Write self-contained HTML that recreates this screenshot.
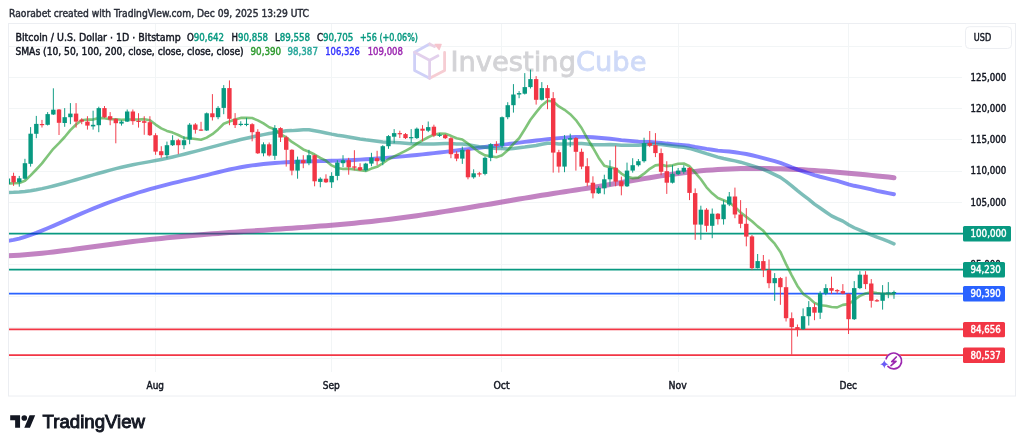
<!DOCTYPE html><html><head><meta charset="utf-8"><title>BTCUSD chart</title><style>
html,body{margin:0;padding:0;background:#fff;width:1024px;height:448px;overflow:hidden}
svg{display:block;will-change:transform}text{font-family:"DejaVu Sans","Liberation Sans",sans-serif;paint-order:stroke;stroke-width:0.45px}
</style></head><body>
<svg width="1024" height="448" viewBox="0 0 1024 448">
<rect width="1024" height="448" fill="#ffffff"/>
<text x="9.0" y="16.7" font-size="9.8" fill="#2a2e39" stroke="#2a2e39" textLength="300.0" lengthAdjust="spacingAndGlyphs">Raorabet created with TradingView.com, Dec 09, 2025 13:29 UTC</text>
<rect x="8.5" y="23.5" width="1007" height="372.5" fill="none" stroke="#eceef2" stroke-width="1"/>
<g stroke="#f2f5f6" stroke-width="1"><line x1="9" x2="962" y1="46.5" y2="46.5"/><line x1="9" x2="962" y1="77.5" y2="77.5"/><line x1="9" x2="962" y1="108.5" y2="108.5"/><line x1="9" x2="962" y1="139.5" y2="139.5"/><line x1="9" x2="962" y1="171.5" y2="171.5"/><line x1="9" x2="962" y1="202.5" y2="202.5"/><line x1="9" x2="962" y1="233.5" y2="233.5"/><line x1="9" x2="962" y1="264.5" y2="264.5"/><line x1="9" x2="962" y1="296.5" y2="296.5"/><line x1="9" x2="962" y1="327.5" y2="327.5"/><line x1="9" x2="962" y1="358.5" y2="358.5"/><line x1="155.5" x2="155.5" y1="24" y2="372"/><line x1="331.5" x2="331.5" y1="24" y2="372"/><line x1="501.5" x2="501.5" y1="24" y2="372"/><line x1="678.5" x2="678.5" y1="24" y2="372"/><line x1="848.5" x2="848.5" y1="24" y2="372"/></g>
<g fill="none" stroke-width="2.8" stroke-linejoin="round" stroke-linecap="round"><path d="M429.6,44 L414.6,52.2 L414.6,70.4 L429.6,78.2" stroke="#cfd0f7"/><path d="M429.6,78.2 L444.6,70.4 L444.6,52.4" stroke="#f6cdd3"/><path d="M414.6,52.2 L429.6,60.3 L438,55.8 M429.6,60.3 L429.6,78.2" stroke="#e2d0ec"/><path d="M429.6,44 L434.5,46.6" stroke="#ead0e4"/><path d="M435,44.3 L441.2,44.3 L439.2,49.6 Z" fill="#f6c4cc" stroke="#f6c4cc" stroke-width="1.2"/></g>
<text x="450.5" y="70.6" font-size="26.5" textLength="196" lengthAdjust="spacingAndGlyphs" style="stroke-width:0.8px"><tspan fill="#d3d3d6" stroke="#d3d3d6">Investing</tspan><tspan fill="#cfdaf8" stroke="#cfdaf8">Cube</tspan></text>
<text x="15.4" y="40.5" font-size="9.8" fill="#131722" stroke="#131722" textLength="165.4" lengthAdjust="spacingAndGlyphs">Bitcoin / U.S. Dollar · 1D · Bitstamp</text>
<text x="187.0" y="40.5" font-size="9.8" textLength="37.1" lengthAdjust="spacingAndGlyphs"><tspan fill="#131722" stroke="#131722">O</tspan><tspan fill="#089981" stroke="#089981">90,642</tspan></text>
<text x="231.6" y="40.5" font-size="9.8" textLength="36.5" lengthAdjust="spacingAndGlyphs"><tspan fill="#131722" stroke="#131722">H</tspan><tspan fill="#089981" stroke="#089981">90,858</tspan></text>
<text x="274.9" y="40.5" font-size="9.8" textLength="35.2" lengthAdjust="spacingAndGlyphs"><tspan fill="#131722" stroke="#131722">L</tspan><tspan fill="#089981" stroke="#089981">89,558</tspan></text>
<text x="316.9" y="40.5" font-size="9.8" textLength="36.5" lengthAdjust="spacingAndGlyphs"><tspan fill="#131722" stroke="#131722">C</tspan><tspan fill="#089981" stroke="#089981">90,705</tspan></text>
<text x="359.9" y="40.5" font-size="9.8" fill="#089981" stroke="#089981" textLength="58.0" lengthAdjust="spacingAndGlyphs">+56 (+0.06%)</text>
<text x="15.4" y="54.9" font-size="9.8" fill="#131722" stroke="#131722" textLength="228.3" lengthAdjust="spacingAndGlyphs">SMAs (10, 50, 100, 200, close, close, close, close)</text>
<text x="250.5" y="54.9" font-size="9.8" fill="#2e9a2e" stroke="#2e9a2e" textLength="30.7" lengthAdjust="spacingAndGlyphs">90,390</text>
<text x="287.6" y="54.9" font-size="9.8" fill="#26a69a" stroke="#26a69a" textLength="30.3" lengthAdjust="spacingAndGlyphs">98,387</text>
<text x="325.3" y="54.9" font-size="9.8" fill="#3333ff" stroke="#3333ff" textLength="34.6" lengthAdjust="spacingAndGlyphs">106,326</text>
<text x="367.7" y="54.9" font-size="9.8" fill="#9c27b0" stroke="#9c27b0" textLength="35.2" lengthAdjust="spacingAndGlyphs">109,008</text>
<line x1="9" x2="963" y1="233.6" y2="233.6" stroke="#089981" stroke-width="1.6"/>
<line x1="9" x2="963" y1="269.6" y2="269.6" stroke="#089981" stroke-width="1.6"/>
<line x1="9" x2="963" y1="293.6" y2="293.6" stroke="#2962ff" stroke-width="1.6"/>
<line x1="9" x2="963" y1="329.4" y2="329.4" stroke="#f23645" stroke-width="1.6"/>
<line x1="9" x2="963" y1="355.1" y2="355.1" stroke="#f23645" stroke-width="1.6"/>
<g fill="none" stroke-linecap="round" stroke-linejoin="round">
<path d="M7.90,255.76 L13.58,255.50 L19.26,255.17 L24.94,254.77 L30.62,254.31 L36.30,253.80 L41.98,253.24 L47.66,252.63 L53.34,251.99 L59.02,251.30 L64.70,250.59 L70.38,249.86 L76.06,249.10 L81.74,248.33 L87.42,247.54 L93.10,246.76 L98.78,245.97 L104.46,245.19 L110.14,244.42 L115.82,243.67 L121.50,242.93 L127.18,242.22 L132.86,241.54 L138.54,240.87 L144.22,240.23 L149.90,239.60 L155.58,239.00 L161.26,238.41 L166.94,237.85 L172.62,237.30 L178.30,236.76 L183.98,236.24 L189.66,235.74 L195.34,235.25 L201.02,234.77 L206.70,234.31 L212.38,233.85 L218.06,233.41 L223.74,232.98 L229.42,232.55 L235.10,232.14 L240.78,231.73 L246.46,231.32 L252.14,230.93 L257.82,230.53 L263.50,230.14 L269.18,229.75 L274.86,229.36 L280.54,228.97 L286.22,228.58 L291.90,228.19 L297.58,227.78 L303.26,227.37 L308.94,226.96 L314.62,226.53 L320.30,226.09 L325.98,225.64 L331.66,225.17 L337.34,224.69 L343.02,224.19 L348.70,223.68 L354.38,223.14 L360.06,222.58 L365.74,222.00 L371.42,221.40 L377.10,220.77 L382.78,220.11 L388.46,219.43 L394.14,218.72 L399.82,217.99 L405.50,217.24 L411.18,216.46 L416.86,215.66 L422.54,214.85 L428.22,214.01 L433.90,213.16 L439.58,212.29 L445.26,211.40 L450.94,210.50 L456.62,209.59 L462.30,208.67 L467.98,207.73 L473.66,206.79 L479.34,205.83 L485.02,204.87 L490.70,203.91 L496.38,202.94 L502.06,201.97 L507.74,201.00 L513.42,200.03 L519.10,199.07 L524.78,198.12 L530.46,197.18 L536.14,196.25 L541.82,195.33 L547.50,194.43 L553.18,193.54 L558.86,192.65 L564.54,191.77 L570.22,190.89 L575.90,190.01 L581.58,189.11 L587.26,188.21 L592.94,187.29 L598.62,186.36 L604.30,185.41 L609.98,184.44 L615.66,183.46 L621.34,182.48 L627.02,181.50 L632.70,180.52 L638.38,179.55 L644.06,178.60 L649.74,177.66 L655.42,176.74 L661.10,175.86 L666.78,175.01 L672.46,174.19 L678.14,173.42 L683.82,172.69 L689.50,172.02 L695.18,171.40 L700.86,170.85 L706.54,170.35 L712.22,169.92 L717.90,169.55 L723.58,169.23 L729.26,168.97 L734.94,168.76 L740.62,168.61 L746.30,168.50 L751.98,168.45 L757.66,168.44 L763.34,168.47 L769.02,168.55 L774.70,168.67 L780.38,168.83 L786.06,169.03 L791.74,169.26 L797.42,169.53 L803.10,169.84 L808.78,170.17 L814.46,170.53 L820.14,170.92 L825.82,171.33 L831.50,171.77 L837.18,172.23 L842.86,172.72 L848.54,173.22 L854.22,173.73 L859.90,174.27 L865.58,174.81 L871.26,175.37 L876.94,175.94 L882.62,176.51 L888.30,177.09 L893.98,177.68" stroke="rgba(140,20,140,0.53)" stroke-width="5.0"/>
<path d="M7.90,240.94 L13.58,239.92 L19.26,238.56 L24.94,236.91 L30.62,235.02 L36.30,232.93 L41.98,230.68 L47.66,228.31 L53.34,225.88 L59.02,223.40 L64.70,220.90 L70.38,218.39 L76.06,215.89 L81.74,213.41 L87.42,210.99 L93.10,208.62 L98.78,206.34 L104.46,204.13 L110.14,202.01 L115.82,199.97 L121.50,198.00 L127.18,196.10 L132.86,194.27 L138.54,192.51 L144.22,190.81 L149.90,189.17 L155.58,187.59 L161.26,186.07 L166.94,184.60 L172.62,183.18 L178.30,181.81 L183.98,180.46 L189.66,179.13 L195.34,177.80 L201.02,176.46 L206.70,175.09 L212.38,173.68 L218.06,172.25 L223.74,170.84 L229.42,169.51 L235.10,168.30 L240.78,167.23 L246.46,166.28 L252.14,165.44 L257.82,164.70 L263.50,164.06 L269.18,163.51 L274.86,163.04 L280.54,162.64 L286.22,162.30 L291.90,162.02 L297.58,161.78 L303.26,161.57 L308.94,161.39 L314.62,161.24 L320.30,161.09 L325.98,160.94 L331.66,160.79 L337.34,160.62 L343.02,160.43 L348.70,160.21 L354.38,159.95 L360.06,159.65 L365.74,159.31 L371.42,158.94 L377.10,158.54 L382.78,158.11 L388.46,157.65 L394.14,157.16 L399.82,156.65 L405.50,156.11 L411.18,155.55 L416.86,154.97 L422.54,154.37 L428.22,153.76 L433.90,153.13 L439.58,152.48 L445.26,151.83 L450.94,151.16 L456.62,150.49 L462.30,149.81 L467.98,149.12 L473.66,148.42 L479.34,147.71 L485.02,147.00 L490.70,146.28 L496.38,145.56 L502.06,144.83 L507.74,144.09 L513.42,143.36 L519.10,142.64 L524.78,141.93 L530.46,141.23 L536.14,140.54 L541.82,139.88 L547.50,139.25 L553.18,138.65 L558.86,138.11 L564.54,137.66 L570.22,137.30 L575.90,137.03 L581.58,136.87 L587.26,136.92 L592.94,137.22 L598.62,137.76 L604.30,138.31 L609.98,138.74 L615.66,139.42 L621.34,140.18 L627.02,140.66 L632.70,141.14 L638.38,141.62 L644.06,141.83 L649.74,142.07 L655.42,142.35 L661.10,142.82 L666.78,143.56 L672.46,144.13 L678.14,144.64 L683.82,145.09 L689.50,145.80 L695.18,146.93 L700.86,147.82 L706.54,148.86 L712.22,149.77 L717.90,150.61 L723.58,151.14 L729.26,151.55 L734.94,152.24 L740.62,153.08 L746.30,153.99 L751.98,155.27 L757.66,156.63 L763.34,158.04 L769.02,159.57 L774.70,161.21 L780.38,162.91 L786.06,165.02 L791.74,167.41 L797.42,169.51 L803.10,171.42 L808.78,173.25 L814.46,175.14 L820.14,176.75 L825.82,178.10 L831.50,179.56 L837.18,180.92 L842.86,182.58 L848.54,184.39 L854.22,185.78 L859.90,186.82 L865.58,188.06 L871.26,189.44 L876.94,190.90 L882.62,192.01 L888.30,193.15 L893.98,194.25" stroke="rgba(10,10,255,0.5)" stroke-width="3.9"/>
<path d="M7.90,192.38 L13.58,192.34 L19.26,192.04 L24.94,191.49 L30.62,190.73 L36.30,189.77 L41.98,188.65 L47.66,187.38 L53.34,185.99 L59.02,184.50 L64.70,182.94 L70.38,181.33 L76.06,179.70 L81.74,178.07 L87.42,176.45 L93.10,174.85 L98.78,173.26 L104.46,171.69 L110.14,170.16 L115.82,168.67 L121.50,167.26 L127.18,165.94 L132.86,164.73 L138.54,163.63 L144.22,162.62 L149.90,161.62 L155.58,160.57 L161.26,159.44 L166.94,158.23 L172.62,156.95 L178.30,155.61 L183.98,154.22 L189.66,152.79 L195.34,151.32 L201.02,149.83 L206.70,148.33 L212.38,146.83 L218.06,145.33 L223.74,143.84 L229.42,142.38 L235.10,140.95 L240.78,139.56 L246.46,138.22 L252.14,136.94 L257.82,135.73 L263.50,134.60 L269.18,133.56 L274.86,132.61 L280.54,131.77 L286.22,130.78 L291.90,130.62 L297.58,130.17 L303.26,129.87 L308.94,129.71 L314.62,130.66 L320.30,131.76 L325.98,132.91 L331.66,134.14 L337.34,135.20 L343.02,135.95 L348.70,136.95 L354.38,138.03 L360.06,139.01 L365.74,139.85 L371.42,140.49 L377.10,141.21 L382.78,141.98 L388.46,142.35 L394.14,142.62 L399.82,142.84 L405.50,143.17 L411.18,143.68 L416.86,143.83 L422.54,144.02 L428.22,144.10 L433.90,144.11 L439.58,143.77 L445.26,143.43 L450.94,143.61 L456.62,143.98 L462.30,144.07 L467.98,144.81 L473.66,145.78 L479.34,146.67 L485.02,147.21 L490.70,147.83 L496.38,148.40 L502.06,148.59 L507.74,148.93 L513.42,148.44 L519.10,147.80 L524.78,147.07 L530.46,146.18 L536.14,145.53 L541.82,144.22 L547.50,143.30 L553.18,143.24 L558.86,144.01 L564.54,144.05 L570.22,143.81 L575.90,143.44 L581.58,143.57 L587.26,143.96 L592.94,144.72 L598.62,144.86 L604.30,144.87 L609.98,144.58 L615.66,144.69 L621.34,145.17 L627.02,145.37 L632.70,145.33 L638.38,145.20 L644.06,144.66 L649.74,144.30 L655.42,144.21 L661.10,144.42 L666.78,145.15 L672.46,145.91 L678.14,146.66 L683.82,147.33 L689.50,148.43 L695.18,150.18 L700.86,151.80 L706.54,153.70 L712.22,155.43 L717.90,157.11 L723.58,158.50 L729.26,159.67 L734.94,160.87 L740.62,162.18 L746.30,163.91 L751.98,165.73 L757.66,167.49 L763.34,169.41 L769.02,171.92 L774.70,174.60 L780.38,177.42 L786.06,181.44 L791.74,185.88 L797.42,190.58 L803.10,195.04 L808.78,199.44 L814.46,204.11 L820.14,207.98 L825.82,211.98 L831.50,215.83 L837.18,218.60 L842.86,221.14 L848.54,224.74 L854.22,227.74 L859.90,230.20 L865.58,232.55 L871.26,234.91 L876.94,237.07 L882.62,239.17 L888.30,241.44 L893.98,243.92" stroke="rgba(19,137,128,0.55)" stroke-width="3.5"/>
<path d="M7.90,183.60 L13.58,183.30 L19.26,183.00 L24.94,180.80 L30.62,175.40 L36.30,169.50 L41.98,163.40 L47.66,156.00 L53.34,148.80 L59.02,143.13 L64.70,137.00 L70.38,130.13 L76.06,124.46 L81.74,120.30 L87.42,119.49 L93.10,119.58 L98.78,117.91 L104.46,118.22 L110.14,119.21 L115.82,119.25 L121.50,119.69 L127.18,119.48 L132.86,119.44 L138.54,119.44 L144.22,119.16 L149.90,120.20 L155.58,124.55 L161.26,128.35 L166.94,130.91 L172.62,132.61 L178.30,134.97 L183.98,137.84 L189.66,138.19 L195.34,139.01 L201.02,139.78 L206.70,137.59 L212.38,134.15 L218.06,129.42 L223.74,123.71 L229.42,121.57 L235.10,119.56 L240.78,117.92 L246.46,117.83 L252.14,118.07 L257.82,120.35 L263.50,123.45 L269.18,127.28 L274.86,129.30 L280.54,134.24 L286.22,137.34 L291.90,141.89 L297.58,145.49 L303.26,149.43 L308.94,151.73 L314.62,154.53 L320.30,157.97 L325.98,160.65 L331.66,165.43 L337.34,167.94 L343.02,168.98 L348.70,168.64 L354.38,169.43 L360.06,170.14 L365.74,170.98 L371.42,168.61 L377.10,166.86 L382.78,163.25 L388.46,159.27 L394.14,156.32 L399.82,153.71 L405.50,150.80 L411.18,147.74 L416.86,143.58 L422.54,140.29 L428.22,137.24 L433.90,134.67 L439.58,133.52 L445.26,133.73 L450.94,135.84 L456.62,138.29 L462.30,139.46 L467.98,143.48 L473.66,147.94 L479.34,152.26 L485.02,155.33 L490.70,156.20 L496.38,157.31 L502.06,155.21 L507.74,150.31 L513.42,143.90 L519.10,138.23 L524.78,129.21 L530.46,119.79 L536.14,112.38 L541.82,105.41 L547.50,100.81 L553.18,101.49 L558.86,106.43 L564.54,109.82 L570.22,114.18 L575.90,120.05 L581.58,128.00 L587.26,138.36 L592.94,147.71 L598.62,157.69 L604.30,165.80 L609.98,167.32 L615.66,168.82 L621.34,173.54 L627.02,176.79 L632.70,178.13 L638.38,177.59 L644.06,173.63 L649.74,168.87 L655.42,165.39 L661.10,164.64 L666.78,166.13 L672.46,165.35 L678.14,163.78 L683.82,163.50 L689.50,166.27 L695.18,172.61 L700.86,179.27 L706.54,187.28 L712.22,193.34 L717.90,198.08 L723.58,200.26 L729.26,202.53 L734.94,206.92 L740.62,212.52 L746.30,216.89 L751.98,221.24 L757.66,226.38 L763.34,230.81 L769.02,237.76 L774.70,243.65 L780.38,251.92 L786.06,264.09 L791.74,275.35 L797.42,285.89 L803.10,293.85 L808.78,297.75 L814.46,302.91 L820.14,305.22 L825.82,305.71 L831.50,306.97 L837.18,307.36 L842.86,304.90 L848.54,304.11 L854.22,300.00 L859.90,295.85 L865.58,293.55 L871.26,292.36 L876.94,293.16 L882.62,293.67 L888.30,293.84 L893.98,293.93" stroke="rgba(43,157,33,0.6)" stroke-width="2.6"/>
</g>
<g fill="#089981"><rect x="7.43" y="176.0" width="0.95" height="10.0"/><rect x="5.70" y="178.5" width="4.4" height="5.5"/><rect x="18.78" y="175.9" width="0.95" height="10.8"/><rect x="17.06" y="178.3" width="4.4" height="4.0"/><rect x="24.46" y="158.8" width="0.95" height="20.7"/><rect x="22.74" y="163.2" width="4.4" height="15.5"/><rect x="30.14" y="127.1" width="0.95" height="39.5"/><rect x="28.42" y="133.7" width="4.4" height="30.1"/><rect x="35.82" y="115.9" width="0.95" height="22.3"/><rect x="34.10" y="123.9" width="4.4" height="9.9"/><rect x="47.18" y="112.1" width="0.95" height="13.4"/><rect x="45.46" y="114.1" width="4.4" height="10.7"/><rect x="52.86" y="88.3" width="0.95" height="26.7"/><rect x="51.14" y="109.7" width="4.4" height="4.8"/><rect x="64.23" y="108.1" width="0.95" height="18.7"/><rect x="62.50" y="117.2" width="4.4" height="5.8"/><rect x="69.91" y="103.1" width="0.95" height="21.1"/><rect x="68.18" y="113.6" width="4.4" height="3.6"/><rect x="92.62" y="110.7" width="0.95" height="18.9"/><rect x="90.90" y="124.8" width="4.4" height="1.6"/><rect x="98.31" y="106.7" width="0.95" height="25.5"/><rect x="96.58" y="108.1" width="4.4" height="17.1"/><rect x="121.03" y="120.2" width="0.95" height="5.4"/><rect x="119.30" y="121.6" width="4.4" height="2.0"/><rect x="126.71" y="109.5" width="0.95" height="12.5"/><rect x="124.98" y="111.5" width="4.4" height="10.1"/><rect x="166.47" y="141.6" width="0.95" height="16.7"/><rect x="164.74" y="145.2" width="4.4" height="10.0"/><rect x="172.15" y="135.2" width="0.95" height="10.8"/><rect x="170.42" y="140.2" width="4.4" height="5.0"/><rect x="183.50" y="136.2" width="0.95" height="13.0"/><rect x="181.78" y="140.2" width="4.4" height="5.0"/><rect x="189.19" y="123.1" width="0.95" height="21.1"/><rect x="187.46" y="124.7" width="4.4" height="14.9"/><rect x="206.22" y="112.5" width="0.95" height="18.5"/><rect x="204.50" y="113.3" width="4.4" height="17.2"/><rect x="217.59" y="106.1" width="0.95" height="13.1"/><rect x="215.86" y="107.9" width="4.4" height="9.3"/><rect x="223.26" y="85.1" width="0.95" height="29.1"/><rect x="221.54" y="88.1" width="4.4" height="19.8"/><rect x="240.31" y="121.2" width="0.95" height="5.0"/><rect x="238.58" y="123.8" width="4.4" height="1.2"/><rect x="245.99" y="117.8" width="0.95" height="8.4"/><rect x="244.26" y="123.8" width="4.4" height="1.2"/><rect x="263.02" y="142.3" width="0.95" height="14.0"/><rect x="261.30" y="144.3" width="4.4" height="9.0"/><rect x="274.38" y="125.1" width="0.95" height="34.7"/><rect x="272.66" y="128.1" width="4.4" height="27.7"/><rect x="297.10" y="156.6" width="0.95" height="22.1"/><rect x="295.38" y="159.8" width="4.4" height="10.8"/><rect x="308.46" y="149.8" width="0.95" height="15.4"/><rect x="306.74" y="155.2" width="4.4" height="8.0"/><rect x="319.82" y="177.3" width="0.95" height="10.0"/><rect x="318.10" y="178.7" width="4.4" height="3.2"/><rect x="331.18" y="172.2" width="0.95" height="15.7"/><rect x="329.46" y="175.9" width="4.4" height="6.4"/><rect x="336.86" y="160.2" width="0.95" height="20.1"/><rect x="335.14" y="162.6" width="4.4" height="13.3"/><rect x="342.54" y="155.2" width="0.95" height="12.0"/><rect x="340.82" y="160.2" width="4.4" height="3.0"/><rect x="365.26" y="162.8" width="0.95" height="8.8"/><rect x="363.54" y="163.6" width="4.4" height="6.7"/><rect x="370.94" y="152.8" width="0.95" height="13.4"/><rect x="369.22" y="157.6" width="4.4" height="6.0"/><rect x="382.30" y="145.2" width="0.95" height="20.0"/><rect x="380.58" y="146.2" width="4.4" height="15.4"/><rect x="387.98" y="135.1" width="0.95" height="13.7"/><rect x="386.26" y="136.1" width="4.4" height="10.1"/><rect x="393.66" y="129.1" width="0.95" height="14.1"/><rect x="391.94" y="133.1" width="4.4" height="3.6"/><rect x="410.70" y="129.1" width="0.95" height="13.7"/><rect x="408.98" y="137.1" width="4.4" height="1.2"/><rect x="416.38" y="127.5" width="0.95" height="11.5"/><rect x="414.66" y="128.7" width="4.4" height="9.4"/><rect x="427.74" y="121.5" width="0.95" height="10.6"/><rect x="426.02" y="127.1" width="4.4" height="3.6"/><rect x="439.10" y="133.0" width="0.95" height="4.0"/><rect x="437.38" y="134.7" width="4.4" height="1.2"/><rect x="461.82" y="146.6" width="0.95" height="17.3"/><rect x="460.10" y="149.8" width="4.4" height="8.8"/><rect x="473.18" y="169.3" width="0.95" height="9.4"/><rect x="471.46" y="173.3" width="4.4" height="4.0"/><rect x="484.54" y="156.6" width="0.95" height="18.7"/><rect x="482.82" y="157.8" width="4.4" height="16.1"/><rect x="490.22" y="143.2" width="0.95" height="18.0"/><rect x="488.50" y="144.2" width="4.4" height="13.6"/><rect x="501.58" y="116.5" width="0.95" height="31.5"/><rect x="499.86" y="117.2" width="4.4" height="28.6"/><rect x="507.26" y="102.2" width="0.95" height="17.0"/><rect x="505.54" y="105.2" width="4.4" height="12.0"/><rect x="512.94" y="84.1" width="0.95" height="28.5"/><rect x="511.22" y="94.5" width="4.4" height="10.7"/><rect x="518.62" y="91.1" width="0.95" height="7.1"/><rect x="516.90" y="93.1" width="4.4" height="1.4"/><rect x="524.30" y="73.1" width="0.95" height="21.4"/><rect x="522.58" y="87.1" width="4.4" height="6.6"/><rect x="529.98" y="69.6" width="0.95" height="18.9"/><rect x="528.26" y="79.1" width="4.4" height="8.0"/><rect x="541.34" y="82.1" width="0.95" height="18.4"/><rect x="539.62" y="88.1" width="4.4" height="11.7"/><rect x="564.06" y="135.1" width="0.95" height="37.1"/><rect x="562.34" y="139.1" width="4.4" height="27.5"/><rect x="569.74" y="133.7" width="0.95" height="13.4"/><rect x="568.02" y="138.1" width="4.4" height="1.6"/><rect x="598.14" y="186.3" width="0.95" height="7.7"/><rect x="596.42" y="187.9" width="4.4" height="5.4"/><rect x="603.82" y="174.7" width="0.95" height="19.6"/><rect x="602.10" y="179.3" width="4.4" height="9.0"/><rect x="609.50" y="160.2" width="0.95" height="26.1"/><rect x="607.78" y="167.8" width="4.4" height="11.5"/><rect x="626.54" y="162.6" width="0.95" height="24.4"/><rect x="624.82" y="170.6" width="4.4" height="15.7"/><rect x="632.22" y="158.2" width="0.95" height="14.4"/><rect x="630.50" y="165.2" width="4.4" height="5.4"/><rect x="637.90" y="159.0" width="0.95" height="7.5"/><rect x="636.18" y="161.2" width="4.4" height="4.0"/><rect x="643.58" y="137.7" width="0.95" height="24.9"/><rect x="641.86" y="143.1" width="4.4" height="18.1"/><rect x="671.98" y="165.2" width="0.95" height="18.3"/><rect x="670.26" y="173.8" width="4.4" height="8.9"/><rect x="677.66" y="168.0" width="0.95" height="7.0"/><rect x="675.94" y="170.6" width="4.4" height="3.6"/><rect x="683.34" y="165.2" width="0.95" height="8.6"/><rect x="681.62" y="167.8" width="4.4" height="4.0"/><rect x="700.38" y="205.7" width="0.95" height="34.1"/><rect x="698.66" y="209.7" width="4.4" height="14.9"/><rect x="711.74" y="208.5" width="0.95" height="29.7"/><rect x="710.02" y="213.7" width="4.4" height="12.1"/><rect x="723.10" y="200.1" width="0.95" height="24.5"/><rect x="721.38" y="204.5" width="4.4" height="14.7"/><rect x="728.78" y="192.0" width="0.95" height="14.1"/><rect x="727.06" y="196.5" width="4.4" height="8.0"/><rect x="757.18" y="254.0" width="0.95" height="14.5"/><rect x="755.46" y="261.1" width="4.4" height="7.0"/><rect x="774.22" y="273.1" width="0.95" height="27.7"/><rect x="772.50" y="278.1" width="4.4" height="5.1"/><rect x="802.62" y="308.4" width="0.95" height="21.6"/><rect x="800.90" y="316.2" width="4.4" height="13.0"/><rect x="808.30" y="301.1" width="0.95" height="24.4"/><rect x="806.58" y="307.1" width="4.4" height="9.1"/><rect x="819.66" y="291.2" width="0.95" height="27.7"/><rect x="817.94" y="293.2" width="4.4" height="19.5"/><rect x="825.34" y="284.2" width="0.95" height="11.0"/><rect x="823.62" y="288.1" width="4.4" height="5.3"/><rect x="853.74" y="281.1" width="0.95" height="38.9"/><rect x="852.02" y="288.1" width="4.4" height="31.1"/><rect x="859.42" y="271.1" width="0.95" height="18.0"/><rect x="857.70" y="274.7" width="4.4" height="13.4"/><rect x="882.14" y="285.1" width="0.95" height="24.5"/><rect x="880.42" y="293.2" width="4.4" height="7.6"/><rect x="887.82" y="282.1" width="0.95" height="16.1"/><rect x="886.10" y="292.4" width="4.4" height="1.2"/><rect x="893.50" y="290.6" width="0.95" height="8.2"/><rect x="891.78" y="292.0" width="4.4" height="1.2"/></g>
<g fill="#f23645"><rect x="13.11" y="172.7" width="0.95" height="13.2"/><rect x="11.38" y="175.9" width="4.4" height="6.4"/><rect x="41.50" y="119.9" width="0.95" height="7.6"/><rect x="39.78" y="124.0" width="4.4" height="1.2"/><rect x="58.54" y="109.0" width="0.95" height="26.0"/><rect x="56.82" y="109.5" width="4.4" height="13.3"/><rect x="75.59" y="103.1" width="0.95" height="24.5"/><rect x="73.86" y="113.6" width="4.4" height="8.0"/><rect x="81.27" y="118.2" width="0.95" height="6.0"/><rect x="79.54" y="119.6" width="4.4" height="2.0"/><rect x="86.95" y="116.2" width="0.95" height="13.4"/><rect x="85.22" y="121.6" width="4.4" height="4.0"/><rect x="103.99" y="106.0" width="0.95" height="12.0"/><rect x="102.26" y="108.1" width="4.4" height="9.1"/><rect x="109.67" y="112.1" width="0.95" height="13.1"/><rect x="107.94" y="116.2" width="4.4" height="3.4"/><rect x="115.34" y="118.2" width="0.95" height="25.1"/><rect x="113.62" y="118.8" width="4.4" height="4.4"/><rect x="132.38" y="109.5" width="0.95" height="15.3"/><rect x="130.66" y="111.5" width="4.4" height="9.7"/><rect x="138.06" y="113.2" width="0.95" height="14.4"/><rect x="136.34" y="120.8" width="4.4" height="1.2"/><rect x="143.75" y="116.2" width="0.95" height="18.6"/><rect x="142.02" y="121.2" width="4.4" height="1.6"/><rect x="149.43" y="116.2" width="0.95" height="19.8"/><rect x="147.70" y="122.2" width="4.4" height="13.0"/><rect x="155.11" y="133.2" width="0.95" height="21.6"/><rect x="153.38" y="135.2" width="4.4" height="16.4"/><rect x="160.78" y="146.2" width="0.95" height="11.5"/><rect x="159.06" y="151.2" width="4.4" height="4.0"/><rect x="177.82" y="138.8" width="0.95" height="15.4"/><rect x="176.10" y="140.2" width="4.4" height="5.0"/><rect x="194.87" y="123.1" width="0.95" height="10.5"/><rect x="193.14" y="124.5" width="4.4" height="5.3"/><rect x="200.55" y="121.8" width="0.95" height="9.2"/><rect x="198.82" y="129.5" width="4.4" height="1.2"/><rect x="211.91" y="94.1" width="0.95" height="26.4"/><rect x="210.18" y="113.3" width="4.4" height="3.9"/><rect x="228.94" y="80.4" width="0.95" height="44.8"/><rect x="227.22" y="88.1" width="4.4" height="30.7"/><rect x="234.62" y="113.1" width="0.95" height="14.9"/><rect x="232.90" y="118.8" width="4.4" height="6.3"/><rect x="251.66" y="123.2" width="0.95" height="18.1"/><rect x="249.94" y="124.2" width="4.4" height="8.0"/><rect x="257.34" y="129.2" width="0.95" height="24.8"/><rect x="255.62" y="131.8" width="4.4" height="21.5"/><rect x="268.70" y="142.5" width="0.95" height="14.0"/><rect x="266.98" y="144.3" width="4.4" height="11.2"/><rect x="280.06" y="127.2" width="0.95" height="14.8"/><rect x="278.34" y="128.1" width="4.4" height="9.4"/><rect x="285.74" y="135.7" width="0.95" height="30.9"/><rect x="284.02" y="137.3" width="4.4" height="12.5"/><rect x="291.42" y="149.2" width="0.95" height="26.1"/><rect x="289.70" y="149.8" width="4.4" height="20.8"/><rect x="302.78" y="155.2" width="0.95" height="13.0"/><rect x="301.06" y="160.2" width="4.4" height="3.0"/><rect x="314.14" y="154.6" width="0.95" height="31.7"/><rect x="312.42" y="155.2" width="4.4" height="26.1"/><rect x="325.50" y="174.3" width="0.95" height="8.7"/><rect x="323.78" y="178.7" width="4.4" height="3.6"/><rect x="348.22" y="157.8" width="0.95" height="16.9"/><rect x="346.50" y="160.2" width="4.4" height="7.0"/><rect x="353.90" y="150.2" width="0.95" height="20.1"/><rect x="352.18" y="166.4" width="4.4" height="1.3"/><rect x="359.58" y="163.2" width="0.95" height="7.8"/><rect x="357.86" y="167.2" width="4.4" height="3.1"/><rect x="376.62" y="150.8" width="0.95" height="14.4"/><rect x="374.90" y="158.2" width="4.4" height="3.0"/><rect x="399.34" y="130.7" width="0.95" height="7.4"/><rect x="397.62" y="133.1" width="4.4" height="1.2"/><rect x="405.02" y="133.0" width="0.95" height="6.0"/><rect x="403.30" y="134.1" width="4.4" height="4.0"/><rect x="422.06" y="125.1" width="0.95" height="16.0"/><rect x="420.34" y="128.7" width="4.4" height="2.0"/><rect x="433.42" y="124.7" width="0.95" height="12.4"/><rect x="431.70" y="126.7" width="4.4" height="8.8"/><rect x="444.78" y="134.0" width="0.95" height="5.0"/><rect x="443.06" y="135.1" width="4.4" height="3.1"/><rect x="450.46" y="137.1" width="0.95" height="21.1"/><rect x="448.74" y="138.2" width="4.4" height="16.0"/><rect x="456.14" y="151.2" width="0.95" height="10.0"/><rect x="454.42" y="153.8" width="4.4" height="4.8"/><rect x="467.50" y="149.2" width="0.95" height="30.1"/><rect x="465.78" y="149.8" width="4.4" height="27.5"/><rect x="478.86" y="171.9" width="0.95" height="4.8"/><rect x="477.14" y="173.3" width="4.4" height="1.2"/><rect x="495.90" y="141.2" width="0.95" height="12.0"/><rect x="494.18" y="144.2" width="4.4" height="1.6"/><rect x="535.66" y="76.1" width="0.95" height="28.5"/><rect x="533.94" y="79.1" width="4.4" height="20.7"/><rect x="547.02" y="85.1" width="0.95" height="24.1"/><rect x="545.30" y="88.1" width="4.4" height="10.1"/><rect x="552.70" y="92.1" width="0.95" height="80.5"/><rect x="550.98" y="98.2" width="4.4" height="54.4"/><rect x="558.38" y="149.8" width="0.95" height="22.8"/><rect x="556.66" y="152.2" width="4.4" height="14.4"/><rect x="575.42" y="137.1" width="0.95" height="33.5"/><rect x="573.70" y="138.1" width="4.4" height="13.7"/><rect x="581.10" y="148.6" width="0.95" height="20.6"/><rect x="579.38" y="151.8" width="4.4" height="14.8"/><rect x="586.78" y="158.2" width="0.95" height="28.1"/><rect x="585.06" y="166.2" width="4.4" height="16.5"/><rect x="592.46" y="176.3" width="0.95" height="22.1"/><rect x="590.74" y="182.7" width="4.4" height="10.6"/><rect x="615.18" y="145.7" width="0.95" height="40.6"/><rect x="613.46" y="167.8" width="4.4" height="13.8"/><rect x="620.86" y="176.6" width="0.95" height="18.7"/><rect x="619.14" y="181.2" width="4.4" height="5.1"/><rect x="649.26" y="131.0" width="0.95" height="16.1"/><rect x="647.54" y="143.1" width="4.4" height="2.6"/><rect x="654.94" y="133.1" width="0.95" height="24.0"/><rect x="653.22" y="145.1" width="4.4" height="8.0"/><rect x="660.62" y="148.5" width="0.95" height="26.7"/><rect x="658.90" y="153.1" width="4.4" height="18.7"/><rect x="666.30" y="161.2" width="0.95" height="32.7"/><rect x="664.58" y="171.2" width="4.4" height="11.5"/><rect x="689.02" y="167.2" width="0.95" height="32.9"/><rect x="687.30" y="167.8" width="4.4" height="25.1"/><rect x="694.70" y="188.4" width="0.95" height="51.4"/><rect x="692.98" y="193.1" width="4.4" height="31.5"/><rect x="706.06" y="208.1" width="0.95" height="23.7"/><rect x="704.34" y="209.7" width="4.4" height="16.1"/><rect x="717.42" y="213.1" width="0.95" height="11.5"/><rect x="715.70" y="213.7" width="4.4" height="5.5"/><rect x="734.46" y="187.6" width="0.95" height="30.6"/><rect x="732.74" y="196.5" width="4.4" height="18.0"/><rect x="740.14" y="200.1" width="0.95" height="28.1"/><rect x="738.42" y="214.5" width="4.4" height="9.3"/><rect x="745.82" y="208.1" width="0.95" height="38.2"/><rect x="744.10" y="223.8" width="4.4" height="12.8"/><rect x="751.50" y="235.0" width="0.95" height="35.1"/><rect x="749.78" y="236.4" width="4.4" height="31.7"/><rect x="762.86" y="255.0" width="0.95" height="22.1"/><rect x="761.14" y="261.1" width="4.4" height="9.0"/><rect x="768.54" y="259.5" width="0.95" height="28.7"/><rect x="766.82" y="270.1" width="4.4" height="13.1"/><rect x="779.90" y="277.1" width="0.95" height="27.7"/><rect x="778.18" y="278.1" width="4.4" height="9.1"/><rect x="785.58" y="276.7" width="0.95" height="44.8"/><rect x="783.86" y="287.2" width="4.4" height="31.0"/><rect x="791.26" y="312.4" width="0.95" height="42.3"/><rect x="789.54" y="318.2" width="4.4" height="8.9"/><rect x="796.94" y="324.5" width="0.95" height="12.1"/><rect x="795.22" y="327.1" width="4.4" height="2.1"/><rect x="813.98" y="303.2" width="0.95" height="17.0"/><rect x="812.26" y="307.1" width="4.4" height="5.6"/><rect x="831.02" y="276.7" width="0.95" height="17.2"/><rect x="829.30" y="288.1" width="4.4" height="2.6"/><rect x="836.70" y="289.1" width="0.95" height="4.5"/><rect x="834.98" y="290.1" width="4.4" height="1.2"/><rect x="842.38" y="284.1" width="0.95" height="10.1"/><rect x="840.66" y="291.1" width="4.4" height="2.5"/><rect x="848.06" y="293.5" width="0.95" height="40.5"/><rect x="846.34" y="293.9" width="4.4" height="25.3"/><rect x="865.10" y="271.1" width="0.95" height="18.0"/><rect x="863.38" y="274.7" width="4.4" height="9.4"/><rect x="870.78" y="279.1" width="0.95" height="28.5"/><rect x="869.06" y="283.5" width="4.4" height="17.3"/><rect x="876.46" y="299.0" width="0.95" height="2.8"/><rect x="874.74" y="300.2" width="4.4" height="1.2"/></g>
<rect x="0" y="23" width="8" height="373" fill="#ffffff"/>
<line x1="8.5" y1="23" x2="8.5" y2="396" stroke="#eceef2"/>
<text x="970.4" y="80.7" font-size="9.8" fill="#131722" stroke="#131722" textLength="35.8" lengthAdjust="spacingAndGlyphs">125,000</text>
<text x="970.4" y="111.9" font-size="9.8" fill="#131722" stroke="#131722" textLength="35.8" lengthAdjust="spacingAndGlyphs">120,000</text>
<text x="970.4" y="143.2" font-size="9.8" fill="#131722" stroke="#131722" textLength="35.8" lengthAdjust="spacingAndGlyphs">115,000</text>
<text x="970.4" y="174.4" font-size="9.8" fill="#131722" stroke="#131722" textLength="35.8" lengthAdjust="spacingAndGlyphs">110,000</text>
<text x="970.4" y="205.6" font-size="9.8" fill="#131722" stroke="#131722" textLength="35.8" lengthAdjust="spacingAndGlyphs">105,000</text>
<text x="970.4" y="268.0" font-size="9.8" fill="#131722" stroke="#131722" textLength="30.3" lengthAdjust="spacingAndGlyphs">95,000</text>
<rect x="965.5" y="26.7" width="46" height="21.8" rx="4" fill="#fff" stroke="#eceef2"/>
<text x="973.8" y="41.2" font-size="9.8" fill="#131722" stroke="#131722" textLength="17.4" lengthAdjust="spacingAndGlyphs">USD</text>
<rect x="963" y="226.1" width="48" height="15.4" rx="1.5" fill="#089981"/>
<text x="970.4" y="237.0" font-size="9.8" fill="#ffffff" stroke="#ffffff" textLength="36.3" lengthAdjust="spacingAndGlyphs">100,000</text>
<rect x="963" y="262.1" width="42" height="15.4" rx="1.5" fill="#089981"/>
<text x="970.4" y="273.0" font-size="9.8" fill="#ffffff" stroke="#ffffff" textLength="30.3" lengthAdjust="spacingAndGlyphs">94,230</text>
<rect x="963" y="286.1" width="42" height="15.4" rx="1.5" fill="#2962ff"/>
<text x="970.4" y="297.0" font-size="9.8" fill="#ffffff" stroke="#ffffff" textLength="30.3" lengthAdjust="spacingAndGlyphs">90,390</text>
<rect x="963" y="321.9" width="42" height="15.4" rx="1.5" fill="#f23645"/>
<text x="970.4" y="332.8" font-size="9.8" fill="#ffffff" stroke="#ffffff" textLength="30.3" lengthAdjust="spacingAndGlyphs">84,656</text>
<rect x="963" y="347.6" width="42" height="15.4" rx="1.5" fill="#f23645"/>
<text x="970.4" y="358.5" font-size="9.8" fill="#ffffff" stroke="#ffffff" textLength="30.3" lengthAdjust="spacingAndGlyphs">80,537</text>
<text x="146.5" y="389.0" font-size="9.8" fill="#131722" stroke="#131722" textLength="17.5" lengthAdjust="spacingAndGlyphs">Aug</text>
<text x="322.7" y="389.0" font-size="9.8" fill="#131722" stroke="#131722" textLength="17.1" lengthAdjust="spacingAndGlyphs">Sep</text>
<text x="493.5" y="389.0" font-size="9.8" fill="#131722" stroke="#131722" textLength="16.2" lengthAdjust="spacingAndGlyphs">Oct</text>
<text x="668.6" y="389.0" font-size="9.8" fill="#131722" stroke="#131722" textLength="18.3" lengthAdjust="spacingAndGlyphs">Nov</text>
<text x="839.6" y="389.0" font-size="9.8" fill="#131722" stroke="#131722" textLength="17.4" lengthAdjust="spacingAndGlyphs">Dec</text>
<g><circle cx="893.7" cy="361.0" r="8.700000000000001" fill="#fff"/><path d="M886.11,358.82 A7.9,7.9 0 1 1 887.92,366.39" fill="none" stroke="#9c27b0" stroke-width="1.6" stroke-linecap="round"/><path d="M896.3,357 L891.8,361.6 L896,361.3 L891,365.6" fill="none" stroke="#9c27b0" stroke-width="1.7" stroke-linejoin="round" stroke-linecap="round"/><path d="M884.3,360 Q884.9,363.6 888.5,364.2 Q884.9,364.8 884.3,368.4 Q883.7,364.8 880.1,364.2 Q883.7,363.6 884.3,360 Z" fill="#6a5cf6"/></g>
<g transform="translate(10.2,415.2) scale(0.704)"><path d="M14 22H7V11H0V4h14v18zM28 22h-8l7.5-18h8L28 22z" transform="translate(0,-4)" fill="#131722"/><circle cx="20" cy="4" r="4" fill="#131722"/></g>
<text x="42.6" y="428.1" font-size="17.6" fill="#131722" stroke="#131722" textLength="102.4" lengthAdjust="spacingAndGlyphs" style="font-family:'Liberation Sans',sans-serif;stroke-width:0.9px">TradingView</text>
</svg></body></html>
